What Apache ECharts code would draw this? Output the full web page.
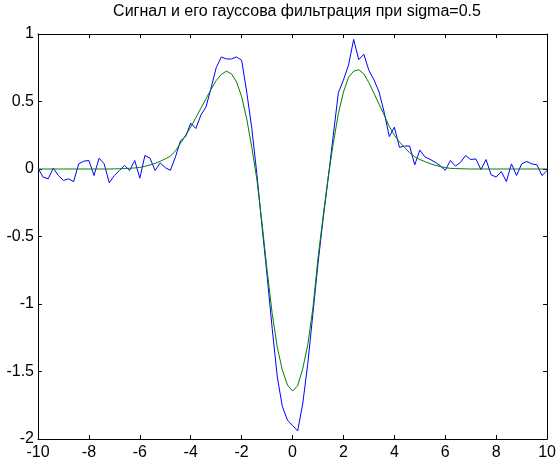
<!DOCTYPE html>
<html>
<head>
<meta charset="utf-8">
<script src="https://cdn.jsdelivr.net/npm/echarts@6/dist/echarts.min.js"></script>
<style>
html,body{margin:0;padding:0;background:#fff;}
#c{width:559px;height:461px;}
</style>
</head>
<body>
<div id="c"></div>
<script>
const titleText = 'Сигнал и его гауссова фильтрация при sigma=0.5';
const xStart = -10;
const xStep = 0.2;
const xTicks = [-10, -8, -6, -4, -2, 0, 2, 4, 6, 8, 10];
const yTicks = [-2, -1.5, -1, -0.5, 0, 0.5, 1];

// noisy signal (blue), sampled every 0.2 from -10 to 10
const signal = [
  0.006, -0.060, -0.073, 0.006, -0.048, -0.085, -0.073, -0.093, 0.038, 0.058,
  0.063, -0.048, 0.080, 0.038, -0.102, -0.048, -0.011, 0.026, -0.011, 0.063,
  -0.068, 0.100, 0.080, -0.011, 0.045, 0.010, -0.010, 0.090, 0.210, 0.240,
  0.340, 0.300, 0.400, 0.460, 0.600, 0.750, 0.830, 0.815, 0.815, 0.830,
  0.805, 0.570, 0.300, -0.040, -0.425, -0.790, -1.180, -1.540, -1.760, -1.860,
  -1.900, -1.940, -1.740, -1.440, -1.070, -0.700, -0.370, -0.070, 0.250, 0.565,
  0.660, 0.770, 0.960, 0.810, 0.850, 0.730, 0.660, 0.570, 0.420, 0.240,
  0.310, 0.160, 0.170, 0.170, 0.030, 0.140, 0.090, 0.072, 0.050, 0.025,
  -0.010, 0.063, 0.021, 0.050, 0.100, 0.070, 0.075, -0.004, 0.070, -0.043,
  -0.060, -0.019, -0.093, 0.038, -0.048, 0.038, 0.056, 0.038, 0.031, -0.048,
  -0.011
];

// gaussian-filtered signal (green)
const filtered = [
  0, 0, 0, 0, 0, 0, 0, 0, 0, 0,
  0, 0, 0, 0, 0, 0.001, 0.002, 0.003, 0.005, 0.008,
  0.012, 0.020, 0.030, 0.042, 0.057, 0.075, 0.095, 0.135, 0.190, 0.250,
  0.310, 0.380, 0.450, 0.520, 0.590, 0.655, 0.700, 0.725, 0.705, 0.645,
  0.535, 0.370, 0.160, -0.080, -0.400, -0.750, -1.070, -1.320, -1.490, -1.600,
  -1.645, -1.605, -1.480, -1.300, -1.030, -0.660, -0.350, -0.060, 0.190, 0.410,
  0.570, 0.680, 0.725, 0.735, 0.705, 0.640, 0.560, 0.480, 0.400, 0.315,
  0.250, 0.200, 0.160, 0.120, 0.090, 0.070, 0.055, 0.040, 0.028, 0.018,
  0.010, 0.005, 0.003, 0.002, 0.001, 0, 0, 0, 0, 0,
  0, 0, 0, 0, 0, 0, 0, 0, 0, 0,
  0
];

function pairs(vals) {
  return vals.map((v, i) => [Math.round((xStart + i * xStep) * 10) / 10, v]);
}

const font = '"Liberation Sans", Arial, Helvetica, sans-serif';
const axisCommon = {
  axisLine: { show: true, onZero: false, lineStyle: { color: '#000', width: 1 } },
  axisTick: { show: true, inside: true, length: 4, lineStyle: { color: '#000', width: 1 } },
  splitLine: { show: false }
};

const chart = echarts.init(document.getElementById('c'), null, { renderer: 'canvas' });
chart.setOption({
  animation: false,
  backgroundColor: '#fff',
  title: {
    text: titleText,
    left: 297,
    top: 4,
    padding: 0,
    textAlign: 'center',
    textStyle: { fontFamily: font, fontSize: 16, fontWeight: 'normal', color: '#000', lineHeight: 16 }
  },
  grid: { left: 38, right: 3, top: 34, bottom: 22, containLabel: false },
  xAxis: [
    Object.assign({
      type: 'value', min: xTicks[0], max: xTicks[xTicks.length - 1], interval: 2,
      position: 'bottom',
      axisLabel: { color: '#000', fontFamily: font, fontSize: 16, margin: 6,
        showMinLabel: true, showMaxLabel: true }
    }, axisCommon),
    Object.assign({
      type: 'value', min: xTicks[0], max: xTicks[xTicks.length - 1], interval: 2,
      position: 'top', axisLabel: { show: false }
    }, axisCommon)
  ],
  yAxis: [
    Object.assign({
      type: 'value', min: yTicks[0], max: yTicks[yTicks.length - 1], interval: 0.5,
      position: 'left',
      axisLabel: { color: '#000', fontFamily: font, fontSize: 16, margin: 4,
        showMinLabel: true, showMaxLabel: true }
    }, axisCommon),
    Object.assign({
      type: 'value', min: yTicks[0], max: yTicks[yTicks.length - 1], interval: 0.5,
      position: 'right', axisLabel: { show: false }
    }, axisCommon)
  ],
  series: [
    {
      name: 'signal', type: 'line', data: pairs(signal), showSymbol: false,
      lineStyle: { color: '#0000ff', width: 1 }, itemStyle: { color: '#0000ff' }, z: 2
    },
    {
      name: 'filtered', type: 'line', data: pairs(filtered), showSymbol: false,
      lineStyle: { color: '#008000', width: 1 }, itemStyle: { color: '#008000' }, z: 3
    }
  ]
});
</script>
</body>
</html>
